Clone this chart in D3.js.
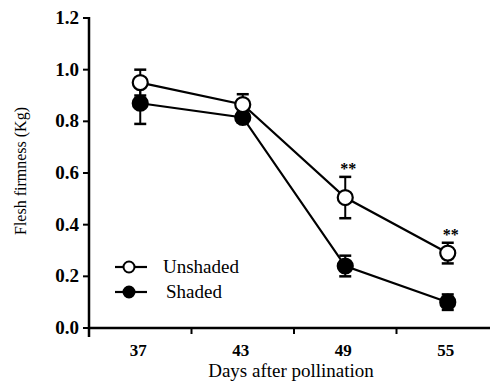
<!DOCTYPE html>
<html>
<head>
<meta charset="utf-8">
<script src="https://cdn.jsdelivr.net/npm/d3@7"></script>
<style>
  body { margin: 0; background: #fff; }
</style>
</head>
<body>
<div id="chart"></div>
<script>
// chart data
var days = ["37", "43", "49", "55"];
var unshaded = [0.95, 0.865, 0.505, 0.29];
var unshadedErr = [0.05, 0.04, 0.08, 0.04];
var shaded = [0.87, 0.815, 0.24, 0.10];
var shadedErr = [0.08, 0.02, 0.04, 0.03];
var stars = ["", "", "**", "**"];
var yTicks = [0, 0.2, 0.4, 0.6, 0.8, 1.0, 1.2];

var svgWidth = 490, svgHeight = 381;
var margin = {top: 18, right: 0, bottom: 53, left: 89};
var height = svgHeight - margin.top - margin.bottom;
var serif = '"Liberation Serif"';

var svg = d3.select("#chart").append("svg")
    .attr("width", svgWidth)
    .attr("height", svgHeight);

var x = d3.scaleBand().domain(days).range([margin.left, 499]).padding(0);
var y = d3.scaleLinear().domain([0, 1.2]).range([margin.top + height, margin.top]);

// x axis
var xg = svg.append("g").attr("transform", `translate(0, ${y(0)})`);
xg.append("line")
    .attr("x1", margin.left).attr("x2", svgWidth)
    .attr("stroke", "#000").attr("stroke-width", 2.5);
xg.selectAll(".xt")
    .data(days)
    .enter().append("line")
    .attr("x1", d => x(d)).attr("x2", d => x(d))
    .attr("y1", 0).attr("y2", 6)
    .attr("stroke", "#000").attr("stroke-width", 2);
xg.selectAll(".xl")
    .data(days)
    .enter().append("text")
    .attr("x", d => x(d) + x.bandwidth() / 2 - 2)
    .attr("y", 28)
    .attr("text-anchor", "middle")
    .style("font-family", serif)
    .style("font-size", "17px")
    .style("font-weight", "bold")
    .text(d => d);

// y axis
var yg = svg.append("g");
yg.append("line")
    .attr("x1", margin.left).attr("x2", margin.left)
    .attr("y1", y(1.2) - 1).attr("y2", y(0) + 9)
    .attr("stroke", "#000").attr("stroke-width", 2.5);
yg.selectAll(".yt")
    .data(yTicks)
    .enter().append("line")
    .attr("x1", margin.left - 6).attr("x2", margin.left)
    .attr("y1", d => y(d)).attr("y2", d => y(d))
    .attr("stroke", "#000").attr("stroke-width", 2);
yg.selectAll(".yl")
    .data(yTicks)
    .enter().append("text")
    .attr("x", margin.left - 10)
    .attr("y", d => y(d) + 6)
    .attr("text-anchor", "end")
    .style("font-family", serif)
    .style("font-size", "19px")
    .style("font-weight", "bold")
    .text(d => d.toFixed(1));

// axis titles
svg.append("text")
    .attr("transform", `translate(26, 171) rotate(-90)`)
    .attr("text-anchor", "middle")
    .style("font-family", serif)
    .style("font-size", "16px")
    .text("Flesh firmness (Kg)");

svg.append("text")
    .attr("x", 291)
    .attr("y", 377)
    .attr("text-anchor", "middle")
    .style("font-family", serif)
    .style("font-size", "19px")
    .text("Days after pollination");

var cx = d => x(d) + x.bandwidth() / 2;

function drawSeries(vals, errs, fill) {
    var g = svg.append("g");
    var line = d3.line()
        .x((d, i) => cx(days[i]))
        .y(d => y(d));
    g.append("path")
        .attr("d", line(vals))
        .attr("fill", "none")
        .attr("stroke", "#000")
        .attr("stroke-width", 2.2);
    vals.forEach(function(v, i) {
        var px = cx(days[i]);
        var top = y(v + errs[i]), bot = y(v - errs[i]);
        g.append("line").attr("x1", px).attr("x2", px).attr("y1", top).attr("y2", bot)
            .attr("stroke", "#000").attr("stroke-width", 2);
        [top, bot].forEach(function(yy) {
            g.append("line").attr("x1", px - 6).attr("x2", px + 6).attr("y1", yy).attr("y2", yy)
                .attr("stroke", "#000").attr("stroke-width", 2.5);
        });
        g.append("circle")
            .attr("cx", px).attr("cy", y(v)).attr("r", 7.5)
            .attr("fill", fill)
            .attr("stroke", "#000").attr("stroke-width", 2.2);
    });
}

drawSeries(shaded, shadedErr, "#000");
drawSeries(unshaded, unshadedErr, "#fff");

// significance marks
svg.selectAll(".star")
    .data(days)
    .enter().append("text")
    .attr("x", d => cx(d) + 3)
    .attr("y", (d, i) => y(unshaded[i] + unshadedErr[i]) - 3)
    .attr("text-anchor", "middle")
    .style("font-family", serif)
    .style("font-size", "16px")
    .style("font-weight", "bold")
    .attr("fill", "#000")
    .text((d, i) => stars[i]);

// legend
var legend = [
    {name: "Unshaded", fill: "#fff", y: 267, tx: 163},
    {name: "Shaded", fill: "#000", y: 292, tx: 166}
];
var lg = svg.selectAll(".leg").data(legend).enter().append("g");
lg.append("line")
    .attr("x1", 115).attr("x2", 147)
    .attr("y1", d => d.y).attr("y2", d => d.y)
    .attr("stroke", "#000").attr("stroke-width", 2.2);
lg.append("circle")
    .attr("cx", 129).attr("cy", d => d.y).attr("r", 5.5)
    .attr("fill", d => d.fill)
    .attr("stroke", "#000").attr("stroke-width", 2);
lg.append("text")
    .attr("x", d => d.tx)
    .attr("y", d => d.y + 6)
    .style("font-family", serif)
    .style("font-size", "19px")
    .text(d => d.name);
</script>
</body>
</html>
